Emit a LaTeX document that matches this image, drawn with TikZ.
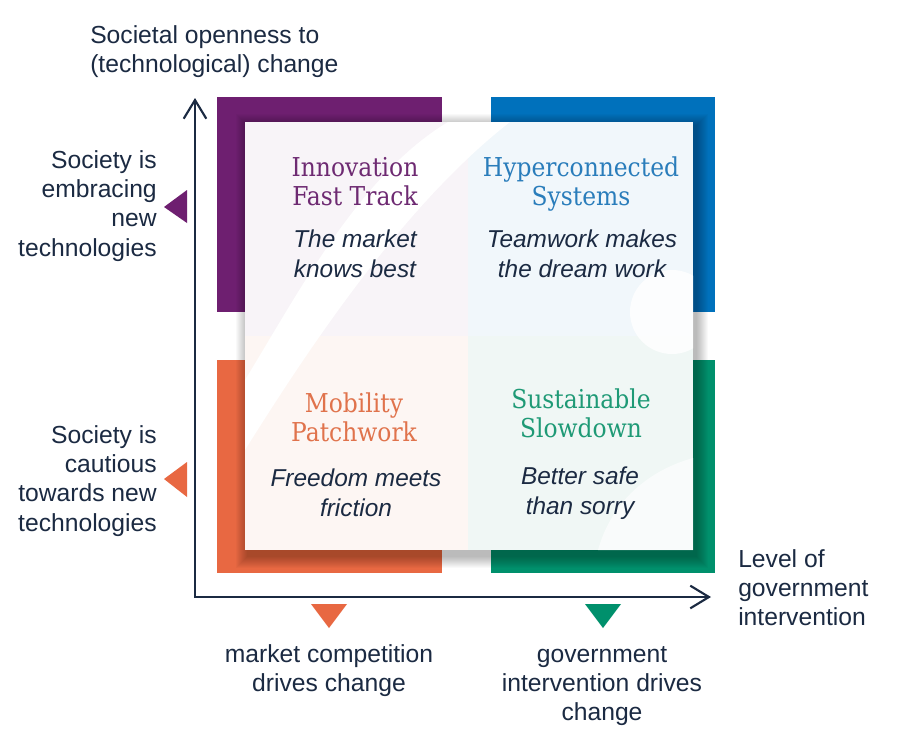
\documentclass[tikz,border=0pt]{standalone}
\usepackage{fontspec}
\setmainfont{Liberation Sans}
\newfontfamily\slab[FakeStretch=0.9]{DejaVu Serif}
\usetikzlibrary{arrows.meta}
\definecolor{cpurple}{HTML}{6E1F70}
\definecolor{cblue}{HTML}{0071BC}
\definecolor{corange}{HTML}{E86842}
\definecolor{cgreen}{HTML}{00906C}
\definecolor{navy}{HTML}{1B2A42}
\definecolor{hpurple}{HTML}{6E2A72}
\definecolor{hblue}{HTML}{2A7DBB}
\definecolor{horange}{HTML}{E0734C}
\definecolor{hgreen}{HTML}{1F9A76}
\definecolor{tpurple}{HTML}{F8F4F8}
\definecolor{tblue}{HTML}{F1F7FB}
\definecolor{torange}{HTML}{FDF6F3}
\definecolor{tgreen}{HTML}{F0F7F5}
\tikzset{
  lbl/.style={inner sep=0pt, text=navy, font=\fontsize{18.5}{22}\selectfont},
  head/.style={inner sep=0pt, align=center, anchor=north, font=\slab\fontsize{19.5}{21.75}\selectfont},
  motto/.style={inner sep=0pt, align=center, anchor=north, text=navy, font=\itshape\fontsize{18.3}{22.5}\selectfont},
  axis/.style={draw=navy, line width=1.9pt, line join=miter},
  barb/.tip={Straight Barb[length=14pt,width=17pt,line width=1.6pt]},
}
\begin{document}
\begin{tikzpicture}[x=0.75pt,y=-0.75pt]
\useasboundingbox (0,0) rectangle (911,743);
\fill[white] (0,0) rectangle (911,743);

% coloured blocks
\fill[cpurple] (217,97) rectangle (442,312);
\fill[cblue]   (491,97) rectangle (715,312);
\fill[corange] (217,360) rectangle (442,573);
\fill[cgreen]  (491,360) rectangle (715,573);

% shadow of the panel
\foreach \i in {1,...,12}
  \fill[black, opacity=0.024] (248-\i,126-\i) rectangle (696+\i,556+\i);

% white panel with faint watermark
\fill[white] (245,122) rectangle (693,550);
\begin{scope}
  \clip (245,122) rectangle (693,550);
  \fill[tpurple] (245,122) rectangle (468,336);
  \fill[tblue]   (468,122) rectangle (693,336);
  \fill[torange] (245,336) rectangle (468,550);
  \fill[tgreen]  (468,336) rectangle (693,550);
  \fill[white] (448,122) .. controls (360,175) and (300,290) .. (245,380)
     -- (245,450) .. controls (320,330) and (410,200) .. (510,122) -- cycle;
  \fill[white, opacity=0.8] (672,312) circle (42);
  \fill[white, opacity=0.6] (598,550) .. controls (612,500) and (650,470) .. (693,458) -- (693,550) -- cycle;
\end{scope}

% axes
\coordinate (ytip) at (195,98);
\coordinate (origin) at (195,597);
\coordinate (xtip) at (711,597);
\draw[axis, {barb}-{barb}] (ytip) -- (origin) -- (xtip);

% markers
\fill[cpurple] (187,190) -- (187,223) -- (164,207) -- cycle;
\fill[corange] (187,462) -- (187,497) -- (164,479) -- cycle;
\fill[corange] (311,604) -- (347,604) -- (329,628) -- cycle;
\fill[cgreen]  (585,604) -- (621,604) -- (603,628) -- cycle;

% axis labels
\node[lbl, anchor=north west, align=left] (ylab) at (90,22.5)
  {\strut Societal openness to\\(technological) change};
\node[lbl, anchor=north east, align=right] (embr) at (157,147.5)
  {\strut Society is\\embracing\\new\\technologies};
\node[lbl, anchor=north east, align=right] (caut) at (157,422.5)
  {\strut Society is\\cautious\\towards new\\technologies};
\node[lbl, anchor=north, align=center] (mkt) at (329,641.5)
  {\strut market competition\\drives change};
\node[lbl, anchor=north, align=center] (gov) at (602,641.5)
  {\strut government\\intervention drives\\change};
\node[lbl, anchor=north west, align=left] (xlab) at (738,546.5)
  {\strut Level of\\government\\intervention};

% quadrant texts
\node[head, text=hpurple] (h1) at (355,156.4) {\strut Innovation\\Fast Track};
\node[head, text=hblue]   (h2) at (581,156.4) {\strut Hyperconnected\\Systems};
\node[head, text=horange] (h3) at (354,392.4) {\strut Mobility\\Patchwork};
\node[head, text=hgreen]  (h4) at (581,388.4) {\strut Sustainable\\Slowdown};
\node[motto] (m1) at (355,226) {\strut The market\\knows best};
\node[motto] (m2) at (582,226) {\strut Teamwork makes\\the dream work};
\node[motto] (m3) at (356,465) {\strut Freedom meets\\friction};
\node[motto] (m4) at (580,463) {\strut Better safe\\than sorry};
\end{tikzpicture}
\end{document}
